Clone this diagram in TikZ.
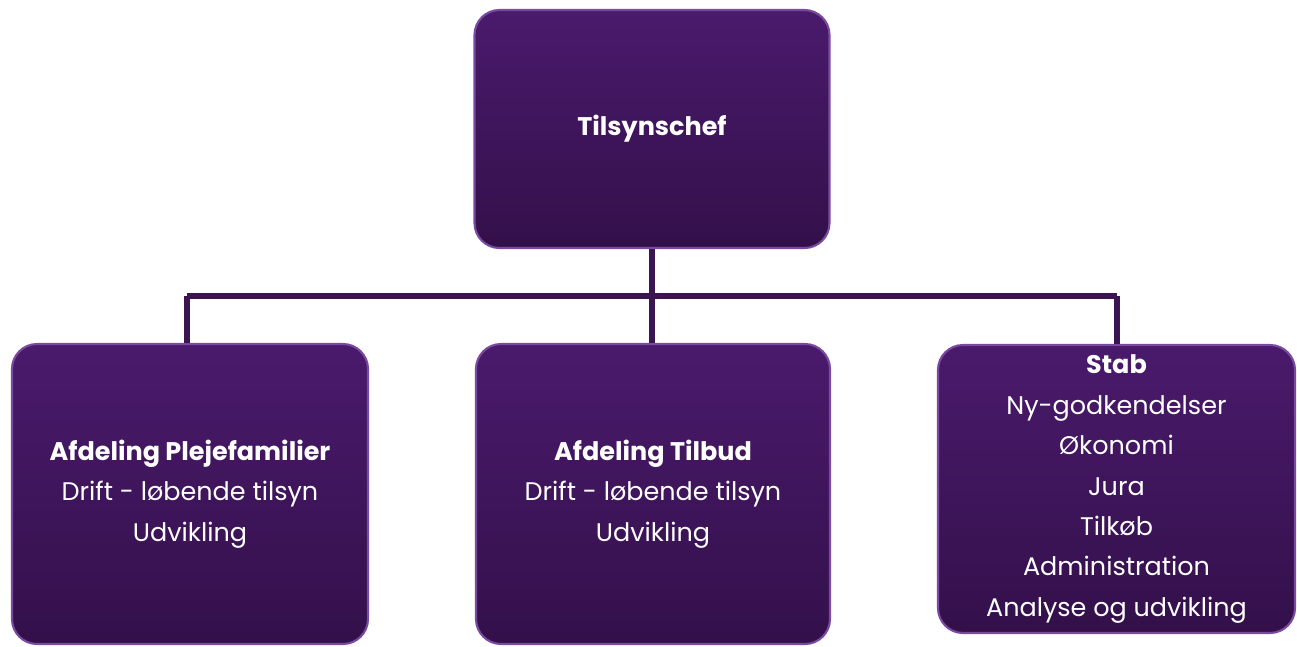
\documentclass[tikz,border=0pt]{standalone}
\usepackage{fontspec}
\setmainfont{Poppins}
\usetikzlibrary{positioning}

\definecolor{boxtop}{HTML}{4A1A6C}
\definecolor{boxbottom}{HTML}{33104A}
\definecolor{boxrim}{HTML}{7A4AA0}
\definecolor{linkcol}{HTML}{3A1550}

\begin{document}
\begin{tikzpicture}[thick,
  unit box/.style={rectangle,rounded corners=0.5cm,draw=boxrim,line width=1.2pt,
    top color=boxtop,bottom color=boxbottom,text=white,align=center,
    font=\fontsize{14.5}{23}\selectfont,inner sep=0pt},
  link/.style={draw=linkcol,line width=3pt}]
  \useasboundingbox (0,0) rectangle (25.94,-12.92);
  \node[unit box,minimum width=7.1cm,minimum height=4.76cm] (chef) at (13.04,-2.58) {\textbf{Tilsynschef}};
  \node[unit box,minimum width=7.12cm,minimum height=6cm] (pleje) at (3.8,-9.88)
    {\textbf{Afdeling Plejefamilier}\\Drift - løbende tilsyn\\Udvikling};
  \node[unit box,minimum width=7.08cm,minimum height=6cm] (tilbud) at (13.06,-9.88)
    {\textbf{Afdeling Tilbud}\\Drift - løbende tilsyn\\Udvikling};
  \node[unit box,minimum width=7.14cm,minimum height=5.76cm] (stab) at (22.33,-9.78)
    {\textbf{Stab}\\Ny-godkendelser\\Økonomi\\Jura\\Tilkøb\\Administration\\Analyse og udvikling};

  \coordinate (mid) at (13.04,-5.92);
  \coordinate (left) at (3.74,-5.92);
  \coordinate (right) at (22.34,-5.92);

  \path[link]
    (chef.south) -- (mid)
    (left) -- (right)
    (left) -- (left |- pleje.north)
    (mid) -- (mid |- tilbud.north)
    (right) -- (right |- stab.north);
\end{tikzpicture}
\end{document}
